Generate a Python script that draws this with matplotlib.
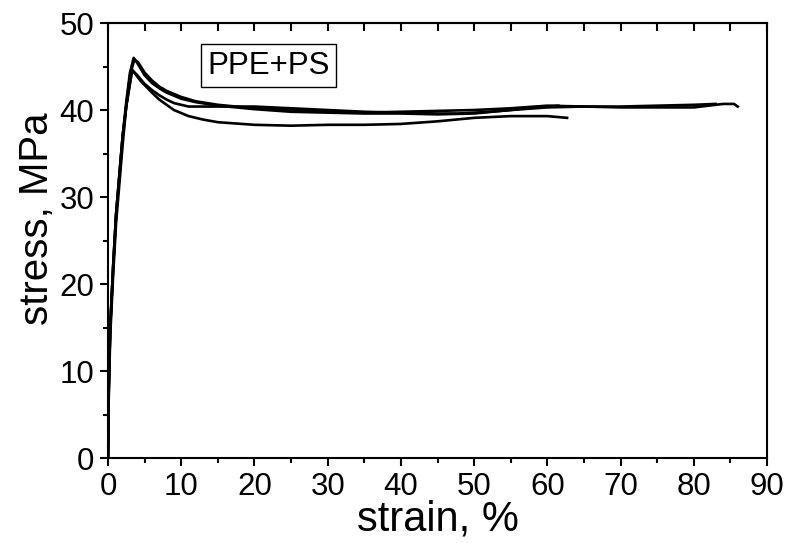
import numpy as np
import matplotlib
matplotlib.use("Agg")
import matplotlib.pyplot as plt

plt.rcParams['font.family'] = ['Liberation Sans', 'DejaVu Sans']

# four stress-strain runs of PPE+PS
x_a = [0, 0.1, 0.3, 0.7, 1.1, 1.5, 2.0, 2.5, 3.0, 3.5, 4.0, 5, 6, 7, 8, 10, 12, 15, 20, 25, 30, 35, 40, 45, 50, 55, 60, 65, 70, 75, 80, 83]
y_a = [0, 8, 15, 22, 28, 32, 37, 41, 44.3, 46.0, 45.4, 44.0, 43.1, 42.5, 42.0, 41.3, 40.9, 40.5, 40.1, 39.8, 39.7, 39.6, 39.6, 39.5, 39.6, 40.0, 40.3, 40.4, 40.4, 40.5, 40.6, 40.7]

x_b = [0, 0.1, 0.3, 0.7, 1.1, 1.5, 2.0, 2.5, 3.0, 3.6, 4.1, 5, 6, 7, 8, 10, 12, 15, 20, 25, 30, 35, 40, 45, 50, 55, 60, 65, 70, 75, 80, 84, 85.5, 86]
y_b = [0, 7, 14, 21, 27, 31, 36, 40.5, 44.0, 45.8, 45.5, 44.3, 43.4, 42.7, 42.2, 41.5, 41.0, 40.6, 40.2, 40.0, 39.8, 39.7, 39.8, 39.9, 40.0, 40.2, 40.5, 40.4, 40.3, 40.3, 40.3, 40.7, 40.7, 40.4]

x_c = [0, 0.1, 0.3, 0.7, 1.1, 1.5, 2.0, 2.5, 3.3, 4, 5, 6, 7, 8, 9, 11, 15, 20, 25, 30, 35, 40, 45, 48, 52, 55, 58, 61.5]
y_c = [0, 8, 15, 22, 28, 32, 37, 40.5, 44.6, 44.0, 43.0, 42.3, 41.7, 41.2, 40.8, 40.4, 40.4, 40.4, 40.2, 40.0, 39.8, 39.7, 39.6, 39.6, 39.8, 40.0, 40.3, 40.5]

x_d = [0, 0.1, 0.3, 0.7, 1.1, 1.5, 2.0, 2.5, 3.3, 4.5, 6, 7, 9, 11, 13, 15, 20, 25, 30, 35, 40, 45, 50, 55, 60, 62.7]
y_d = [0, 8, 15, 22, 28, 32, 37, 40.5, 44.6, 43.3, 42.0, 41.2, 40.0, 39.3, 38.9, 38.6, 38.3, 38.2, 38.3, 38.3, 38.4, 38.7, 39.1, 39.3, 39.3, 39.1]

fig = plt.figure(figsize=(7.89, 5.43), dpi=100)
ax = fig.add_axes([0.1369, 0.1565, 0.8352, 0.8011])

for xs, ys in [(x_a, y_a), (x_b, y_b), (x_c, y_c), (x_d, y_d)]:
    ax.plot(xs, ys, color='black', lw=1.9)

ax.set_xlim(0, 90)
ax.set_ylim(0, 50)
ax.set_xticks(np.arange(0, 91, 10))
ax.set_xticks(np.arange(5, 90, 10), minor=True)
ax.set_yticks(np.arange(0, 51, 10))
ax.set_yticks(np.arange(5, 50, 10), minor=True)
ax.tick_params(which='major', direction='out', length=6, width=1.5, labelsize=22.5, pad=4)
ax.tick_params(which='minor', direction='out', length=3.5, width=1.5)
for s in ax.spines.values():
    s.set_linewidth(1.5)

top = ax.secondary_xaxis('top')
top.set_xticks(np.arange(0, 91, 5))
top.tick_params(direction='in', length=6, width=1.5, labeltop=False)
top.spines['top'].set_linewidth(1.5)

ax.set_xlabel('strain, %', fontsize=30, labelpad=-2)
ax.set_ylabel('stress, MPa', fontsize=29)
ax.yaxis.set_label_coords(-0.079, 0.55)

ax.text(0.151, 0.902, 'PPE+PS', transform=ax.transAxes, fontsize=22.5,
        ha='left', va='center',
        bbox=dict(boxstyle='square,pad=0.2', fc='white', ec='black', lw=1))

fig.savefig('out.png', dpi=100)
